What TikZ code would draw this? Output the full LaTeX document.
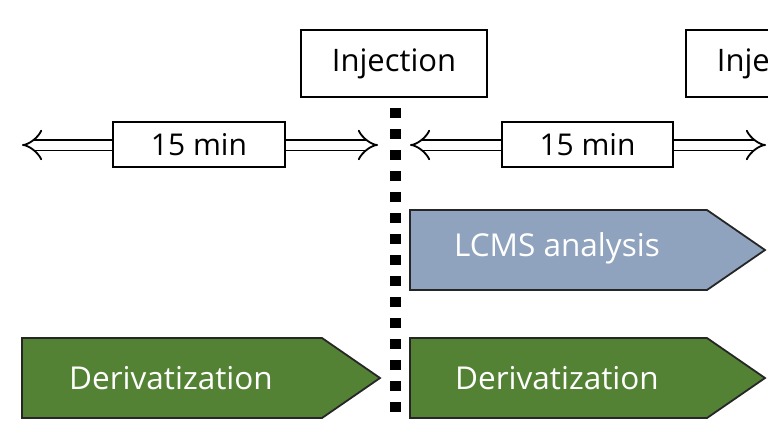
\documentclass[tikz,border=0pt]{standalone}
\usepackage{fontspec}
\setmainfont{Open Sans}
\usetikzlibrary{arrows.meta}

\definecolor{lcmsblue}{RGB}{143,163,190}
\definecolor{derivgreen}{RGB}{84,130,52}

\tikzset{
  labelbox/.style={draw=black, line width=2pt, fill=white, inner sep=0pt, font=\fontsize{31}{34}\selectfont},
  spanarrow/.style={line width=1.8pt, double distance=9pt, {Implies[length=9pt]}-{Implies[length=9pt]}},
  stagebox/.style={draw=black!85, line width=1.8pt},
  stagetext/.style={text=white, font=\fontsize{31.5}{34}\selectfont}
}

\begin{document}
\begin{tikzpicture}[x=1pt, y=-1pt]
\useasboundingbox (0,0) rectangle (768,432);

% injection marks
\node[labelbox, minimum width=186pt, minimum height=67pt] (inj1) at (394,63.5) {Injection};
\node[labelbox, minimum width=186pt, minimum height=67pt, anchor=west] (inj2) at (685,63.5) {Injection};

\draw [line width=11pt, dash pattern=on 10pt off 11pt] (395,108) -- (395,413);

% 15 min spans
\coordinate (s1l) at (22,145);
\coordinate (s1r) at (378,145);
\coordinate (s2l) at (410,145);
\coordinate (s2r) at (766,145);
\draw [spanarrow] (s1l) -- (s1r);
\draw [spanarrow] (s2l) -- (s2r);
\node[labelbox, minimum width=172pt, minimum height=45pt, font=\fontsize{30}{32}\selectfont] (span1) at (199,144.5) {15 min};
\node[labelbox, minimum width=171pt, minimum height=45pt, font=\fontsize{30}{32}\selectfont] (span2) at (587.5,144.5) {15 min};

% stages
\path[stagebox, fill=lcmsblue] (410,210) -- (707,210) -- (765,250) -- (707,290) -- (410,290) -- cycle;
\node[stagetext] (lcms) at (557,248) {LCMS analysis};

\path[stagebox, fill=derivgreen] (22,338) -- (322,338) -- (380,378) -- (322,418) -- (22,418) -- cycle;
\node[stagetext] (der1) at (171,378) {Derivatization};

\path[stagebox, fill=derivgreen] (410,338) -- (707,338) -- (765,378) -- (707,418) -- (410,418) -- cycle;
\node[stagetext] (der2) at (557,378) {Derivatization};

\end{tikzpicture}
\end{document}
